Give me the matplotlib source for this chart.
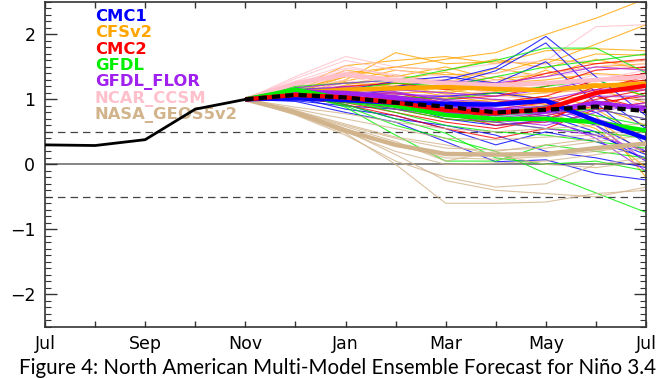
import matplotlib
matplotlib.use("Agg")
import matplotlib.pyplot as plt
from matplotlib.ticker import MultipleLocator, FixedLocator

# ---------------- data ----------------
month_labels = ["Jul", "", "Sep", "", "Nov", "", "Jan", "", "Mar", "", "May", "", "Jul"]
obs_months = [0, 1, 2, 3, 4]
obs_values = [0.30, 0.29, 0.38, 0.85, 1.00]
fc_months = [4, 5, 6, 7, 8, 9, 10, 11, 12]   # Nov .. Jul

model_names = ["CMC1", "CFSv2", "CMC2", "GFDL", "GFDL_FLOR", "NCAR_CCSM", "NASA_GEOS5v2"]
model_colors = ["#0000FF", "#FFA500", "#FF0000", "#00EE00", "#A020F0", "#FFC0CB", "#D2B48C"]

cmc1_members = [
    [1.0, 1.06, 1.10, 1.20, 1.30, 1.49, 1.97, 1.35, 0.75],
    [1.0, 1.04, 1.05, 1.15, 1.22, 1.44, 1.87, 1.10, 0.55],
    [1.0, 1.02, 1.15, 1.28, 1.35, 1.25, 1.58, 0.95, 0.30],
    [1.0, 1.00, 0.95, 1.00, 1.05, 1.10, 1.00, 0.80, 0.40],
    [1.0, 0.98, 0.90, 0.85, 0.80, 0.75, 0.85, 0.60, 0.20],
    [1.0, 1.03, 0.85, 0.75, 0.55, 0.30, 0.50, 0.35, 0.10],
    [1.0, 0.97, 0.80, 0.65, 0.35, 0.04, 0.07, -0.14, -0.24],
    [1.0, 1.05, 0.92, 0.70, 0.60, 0.45, 0.20, 0.10, -0.05],
    [1.0, 1.01, 1.00, 0.95, 0.70, 0.60, 0.68, 0.45, 0.15],
    [1.0, 0.99, 0.96, 0.90, 0.98, 0.85, 0.75, 0.50, 0.05],
]
cfsv2_members = [
    [1.0, 1.15, 1.35, 1.50, 1.62, 1.72, 2.00, 2.25, 2.55],
    [1.0, 1.12, 1.30, 1.72, 1.55, 1.58, 1.55, 1.85, 2.15],
    [1.0, 1.18, 1.52, 1.60, 1.66, 1.55, 1.75, 1.78, 1.75],
    [1.0, 1.10, 1.40, 1.50, 1.45, 1.62, 1.48, 1.70, 1.68],
    [1.0, 1.08, 1.28, 1.45, 1.38, 1.40, 1.62, 1.55, 1.60],
    [1.0, 1.14, 1.45, 1.35, 1.50, 1.30, 1.40, 1.50, 1.55],
    [1.0, 1.06, 1.22, 1.38, 1.25, 1.48, 1.35, 1.62, 1.45],
    [1.0, 1.10, 1.35, 1.30, 1.42, 1.25, 1.30, 1.40, 1.35],
    [1.0, 1.05, 1.18, 1.25, 1.20, 1.35, 1.22, 1.30, 1.28],
    [1.0, 1.09, 1.26, 1.20, 1.30, 1.18, 1.45, 1.20, 1.15],
    [1.0, 1.04, 1.15, 1.15, 1.10, 1.22, 1.15, 1.25, 1.05],
    [1.0, 1.07, 1.20, 1.28, 1.15, 1.05, 1.10, 1.15, 0.95],
    [1.0, 1.03, 1.10, 1.08, 1.02, 1.12, 1.00, 1.05, 0.80],
    [1.0, 1.05, 1.12, 1.18, 1.05, 0.95, 1.05, 0.90, 0.60],
    [1.0, 1.02, 1.05, 1.00, 0.95, 1.00, 0.92, 0.85, 0.40],
    [1.0, 1.06, 1.16, 1.10, 1.12, 0.98, 0.88, 0.70, 0.15],
    [1.0, 1.03, 1.08, 1.05, 0.90, 0.85, 0.80, 0.55, -0.05],
    [1.0, 1.04, 1.14, 1.22, 1.08, 1.10, 0.95, 0.75, -0.20],
]
cmc2_members = [
    [1.0, 1.10, 1.20, 1.25, 1.15, 1.20, 1.40, 1.55, 1.62],
    [1.0, 1.08, 1.12, 1.05, 1.00, 1.05, 1.20, 1.45, 1.50],
    [1.0, 1.06, 1.05, 1.00, 0.90, 0.95, 1.05, 1.30, 1.40],
    [1.0, 1.09, 1.00, 0.90, 0.80, 0.75, 0.90, 1.20, 1.30],
    [1.0, 1.05, 0.98, 0.85, 0.70, 0.65, 0.80, 1.00, 1.15],
    [1.0, 1.07, 0.95, 0.80, 0.65, 0.55, 0.70, 0.95, 1.05],
    [1.0, 1.04, 0.92, 0.75, 0.55, 0.40, 0.55, 0.85, 0.95],
    [1.0, 1.08, 1.08, 1.10, 0.95, 0.85, 0.95, 1.15, 1.35],
    [1.0, 1.05, 1.02, 0.95, 0.88, 0.70, 0.75, 0.90, 1.10],
    [1.0, 1.06, 0.98, 0.92, 0.78, 0.60, 0.65, 1.05, 0.85],
]
gfdl_members = [
    [1.0, 1.20, 1.25, 1.30, 1.45, 1.60, 1.79, 1.79, 1.41],
    [1.0, 1.18, 1.15, 1.25, 1.20, 1.35, 1.50, 1.60, 1.70],
    [1.0, 1.16, 1.10, 1.05, 1.00, 1.10, 1.20, 1.30, 1.05],
    [1.0, 1.14, 1.00, 0.95, 0.85, 0.80, 0.90, 0.75, 0.60],
    [1.0, 1.12, 0.95, 0.85, 0.70, 0.65, 0.55, 0.50, 0.40],
    [1.0, 1.15, 0.98, 0.80, 0.60, 0.50, 0.45, 0.35, 0.25],
    [1.0, 1.10, 0.90, 0.60, 0.40, 0.20, -0.14, -0.44, -0.74],
    [1.0, 1.13, 0.92, 0.70, 0.48, 0.10, 0.00, 0.05, -0.10],
    [1.0, 1.17, 1.05, 0.90, 0.90, 0.75, 0.80, 0.85, 0.70],
    [1.0, 1.11, 0.88, 0.45, 0.05, 0.05, 0.30, 0.20, 0.10],
]
flor_members = [
    [1.0, 1.18, 1.25, 1.30, 1.28, 1.25, 1.35, 1.50, 1.45],
    [1.0, 1.15, 1.20, 1.15, 1.10, 1.05, 1.15, 1.30, 1.35],
    [1.0, 1.14, 1.15, 1.10, 1.00, 0.95, 1.00, 1.15, 1.20],
    [1.0, 1.12, 1.10, 1.05, 0.95, 0.85, 0.90, 1.05, 1.05],
    [1.0, 1.10, 1.08, 1.00, 0.90, 0.80, 0.75, 0.95, 0.90],
    [1.0, 1.13, 1.05, 0.95, 0.85, 0.75, 0.70, 0.85, 0.70],
    [1.0, 1.11, 1.02, 0.90, 0.80, 0.70, 0.65, 0.70, 0.50],
    [1.0, 1.09, 1.00, 0.85, 0.75, 0.65, 0.55, 0.45, 0.20],
    [1.0, 1.16, 1.12, 1.08, 1.05, 1.00, 0.95, 0.60, 0.05],
    [1.0, 1.12, 1.06, 0.98, 0.88, 0.78, 0.72, 0.40, -0.10],
    [1.0, 1.14, 1.18, 1.12, 0.98, 0.92, 0.85, 1.10, 1.15],
    [1.0, 1.10, 1.04, 0.92, 0.82, 0.68, 0.60, 0.80, 0.95],
]
ncar_members = [
    [1.0, 1.35, 1.66, 1.50, 1.45, 1.55, 1.59, 2.12, 2.15],
    [1.0, 1.32, 1.60, 1.45, 1.35, 1.40, 1.55, 1.60, 1.70],
    [1.0, 1.28, 1.52, 1.35, 1.30, 1.25, 1.35, 1.45, 1.55],
    [1.0, 1.25, 1.48, 1.38, 1.20, 1.30, 1.25, 1.30, 1.45],
    [1.0, 1.22, 1.45, 1.25, 1.28, 1.15, 1.20, 1.38, 1.35],
    [1.0, 1.20, 1.40, 1.30, 1.15, 1.20, 1.10, 1.20, 1.25],
    [1.0, 1.18, 1.36, 1.20, 1.22, 1.10, 1.15, 1.10, 1.15],
    [1.0, 1.15, 1.30, 1.15, 1.10, 1.05, 1.00, 1.05, 1.00],
    [1.0, 1.22, 1.42, 1.28, 1.25, 1.35, 1.40, 1.50, 1.60],
    [1.0, 1.12, 1.25, 1.10, 1.05, 1.15, 1.25, 1.15, 0.90],
]
nasa_members = [
    [1.0, 0.88, 0.78, 0.65, 0.55, 0.50, 0.55, 0.60, 0.62],
    [1.0, 0.85, 0.70, 0.55, 0.40, 0.38, 0.42, 0.45, 0.55],
    [1.0, 0.82, 0.60, 0.40, 0.25, 0.22, 0.25, 0.35, 0.45],
    [1.0, 0.80, 0.55, 0.30, 0.10, 0.08, 0.12, 0.20, 0.30],
    [1.0, 0.78, 0.50, 0.20, 0.00, 0.02, 0.05, 0.15, 0.25],
    [1.0, 0.76, 0.45, 0.05, -0.20, -0.35, -0.30, 0.00, 0.10],
    [1.0, 0.77, 0.48, 0.00, -0.60, -0.60, -0.58, -0.45, -0.40],
    [1.0, 0.79, 0.52, 0.15, -0.25, -0.40, -0.45, -0.50, -0.35],
    [1.0, 0.83, 0.62, 0.42, 0.30, 0.15, 0.00, -0.05, 0.05],
    [1.0, 0.81, 0.58, 0.35, 0.05, 0.20, 0.30, 0.40, 0.50],
]

cmc1_mean = [1.0, 1.03, 0.99, 0.95, 0.93, 0.92, 0.98, 0.67, 0.40]
cfsv2_mean = [1.0, 1.10, 1.15, 1.17, 1.19, 1.16, 1.14, 1.21, 1.24]
cmc2_mean = [1.0, 1.07, 1.03, 0.95, 0.84, 0.79, 0.85, 1.10, 1.21]
gfdl_mean = [1.0, 1.15, 1.00, 0.90, 0.76, 0.70, 0.70, 0.65, 0.52]
flor_mean = [1.0, 1.12, 1.10, 1.03, 0.93, 0.84, 0.81, 0.95, 0.85]
ncar_mean = [1.0, 1.25, 1.38, 1.30, 1.25, 1.22, 1.25, 1.30, 1.35]
nasa_mean = [1.0, 0.80, 0.52, 0.30, 0.16, 0.15, 0.16, 0.25, 0.32]
nmme_mean = [1.0, 1.07, 1.03, 0.95, 0.89, 0.80, 0.84, 0.89, 0.82]

members = [cmc1_members, cfsv2_members, cmc2_members, gfdl_members,
           flor_members, ncar_members, nasa_members]
means = [cmc1_mean, cfsv2_mean, cmc2_mean, gfdl_mean, flor_mean, ncar_mean, nasa_mean]

# ---------------- figure ----------------
W, H = 671, 378
fig = plt.figure(figsize=(W / 100, H / 100), dpi=100)
left, right, top, bottom = 45, 646, 2, 326.7
ax = fig.add_axes([left / W, (H - bottom) / H, (right - left) / W, (bottom - top) / H])

# reference lines
ax.axhline(0, color="#707070", lw=1.2, zorder=1)
for yv in (0.5, -0.5):
    ax.axhline(yv, color="#444444", lw=0.9, ls=(0, (6, 4)), zorder=1)

# ensemble members
draw_order = [1, 5, 0, 2, 3, 4, 6]
for i in draw_order:
    for m in members[i]:
        ax.plot(fc_months, m, color=model_colors[i], lw=0.8, alpha=0.8, zorder=2)

# model means
for i in [6, 5, 1, 4, 3, 0, 2]:
    ax.plot(fc_months, means[i], color=model_colors[i], lw=3.2, zorder=3,
            solid_capstyle="butt")

ax.plot(fc_months, nmme_mean, color="black", lw=3.0, ls=(0, (2.0, 1.2)), zorder=4)
ax.plot(obs_months, obs_values, color="black", lw=2.0, zorder=4)

# axes
ax.set_xlim(0, 12)
ax.set_ylim(-2.5, 2.5)
ax.xaxis.set_major_locator(FixedLocator(list(range(13))))
ax.set_xticklabels(month_labels)
ax.yaxis.set_major_locator(MultipleLocator(1))
ax.yaxis.set_minor_locator(MultipleLocator(0.1))
ax.tick_params(axis="x", which="major", direction="in", length=4.5, width=1.0,
               top=True, bottom=True, labelsize=12.5, pad=6, colors="#333333",
               labelcolor="black")
ax.tick_params(axis="y", which="major", direction="in", length=8.5, width=1.0,
               left=True, right=True, labelsize=12.5, pad=7, colors="#333333",
               labelcolor="black")
ax.tick_params(axis="y", which="minor", direction="in", length=4.3, width=0.8,
               left=True, right=True, colors="#333333")
for s in ax.spines.values():
    s.set_linewidth(1.2)
    s.set_color("#333333")

# legend text
baselines = [20.7, 37.1, 53.5, 69.9, 86.3, 102.7, 119.1]
for name, col, b in zip(model_names, model_colors, baselines):
    ax.text((95 - left) / (right - left), 1 - (b - top) / (bottom - top), name,
            color=col, fontsize=11.8, fontweight="bold", family="DejaVu Sans",
            transform=ax.transAxes, ha="left", va="baseline", zorder=2.5)

fig.text(337.5 / W, (H - 374) / H,
         "Figure 4: North American Multi-Model Ensemble Forecast for Niño 3.4",
         ha="center", va="baseline", fontsize=14.8, family="Lato", color="black")

fig.savefig("out.png", dpi=100)
